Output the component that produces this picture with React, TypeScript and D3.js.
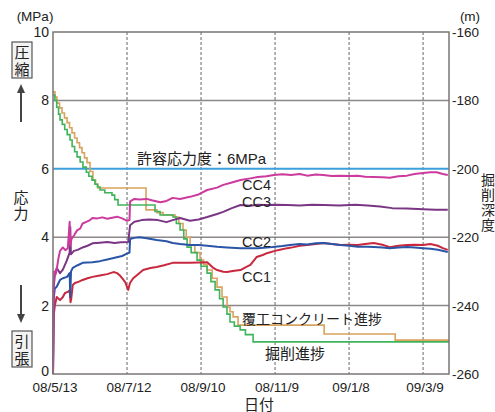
import React from "react"
import * as d3 from "d3"

// days since 08/5/13, value
const cc4: [number, number][] = [
  [0, 0], [0.5, 2.6], [1, 3.0], [2, 2.9], [3, 3.05], [4.5, 3.4], [5.7, 3.6], [8, 3.7], [10, 3.62], [12, 3.68],
  [13.5, 4.45], [14, 3.75], [15, 3.95], [17, 4.05], [19.5, 4.2], [22, 4.25], [24, 4.4], [27, 4.45], [30, 4.5],
  [32, 4.56], [36, 4.55], [40, 4.58], [44, 4.54], [48, 4.57], [52, 4.6], [56, 4.55], [60, 4.48], [62, 4.5],
  [62.5, 5.05], [66, 5.12], [70, 5.1], [76, 5.12], [80, 5.08], [87, 5.02], [92, 5.06], [97, 5.15], [103, 5.12],
  [111, 5.18], [118, 5.25], [125, 5.38], [133, 5.45], [138, 5.53], [145, 5.6], [152, 5.67], [160, 5.72],
  [166, 5.76], [173, 5.78], [179, 5.82], [186, 5.84], [193, 5.82], [200, 5.85], [206, 5.8], [213, 5.83],
  [219, 5.82], [226, 5.79], [233, 5.8], [240, 5.79], [247, 5.8], [253, 5.77], [260, 5.76], [267, 5.75],
  [273, 5.74], [280, 5.78], [287, 5.8], [293, 5.85], [300, 5.88], [306, 5.9], [311, 5.9], [316, 5.85], [320, 5.82],
]

const cc3: [number, number][] = [
  [0, 0], [0.5, 2.5], [1.5, 2.9], [3, 3.1], [5.7, 2.95], [8, 3.05], [11, 3.3], [13.5, 3.55], [14, 4.3],
  [14.5, 3.5], [17, 3.6], [20, 3.63], [24, 3.7], [28, 3.75], [32, 3.82], [38, 3.84], [44, 3.86], [50, 3.83],
  [55, 3.85], [61, 3.86], [62.5, 4.35], [66, 4.45], [72, 4.5], [78, 4.52], [85, 4.5], [92, 4.44], [97, 4.5],
  [103, 4.56], [111, 4.48], [118, 4.52], [125, 4.59], [133, 4.68], [138, 4.74], [145, 4.85], [152, 4.94],
  [160, 4.92], [166, 4.95], [173, 4.94], [180, 4.95], [190, 4.94], [200, 4.93], [210, 4.95], [220, 4.94],
  [232, 4.93], [245, 4.95], [255, 4.93], [265, 4.9], [275, 4.85], [287, 4.84], [300, 4.82], [310, 4.8], [320, 4.8],
]

const cc2: [number, number][] = [
  [0, 0], [0.5, 2.2], [1.5, 2.5], [3, 2.55], [5.7, 2.75], [8, 2.8], [11.4, 2.84], [13.5, 2.95], [14, 2.25],
  [14.6, 3.0], [16, 3.1], [20, 3.18], [24, 3.25], [28, 3.26], [32, 3.27], [38, 3.3], [44, 3.35], [50, 3.4],
  [56, 3.45], [60, 3.52], [62, 3.55], [62.5, 3.95], [66, 3.98], [70, 4.0], [76, 3.97], [84, 3.92], [92, 3.88],
  [97, 3.83], [103, 3.8], [111, 3.77], [118, 3.77], [125, 3.75], [133, 3.72], [141, 3.7], [152, 3.68],
  [160, 3.68], [166, 3.68], [178, 3.71], [186, 3.74], [192, 3.77], [200, 3.8], [206, 3.79], [213, 3.82],
  [219, 3.83], [226, 3.8], [233, 3.77], [240, 3.75], [247, 3.72], [255, 3.72], [260, 3.71], [267, 3.7],
  [273, 3.68], [280, 3.7], [287, 3.71], [293, 3.7], [300, 3.68], [306, 3.66], [312, 3.63], [320, 3.57],
]

const cc1: [number, number][] = [
  [0, 0], [0.5, 1.7], [1.5, 2.0], [3, 2.25], [5.7, 2.16], [8, 2.25], [9.7, 2.37], [12, 2.4], [13.5, 2.45],
  [14.2, 2.1], [14.8, 2.2], [16, 2.6], [17.8, 2.66], [21, 2.7], [24, 2.75], [28, 2.8], [32, 2.84], [38, 2.88],
  [44, 2.92], [49, 2.98], [52, 2.95], [54, 2.89], [56.5, 2.78], [58.5, 2.69], [60, 2.55], [61, 2.46],
  [62.4, 2.66], [65, 2.8], [68, 2.89], [73, 3.04], [79, 3.1], [84, 3.13], [90, 3.18], [97, 3.25], [103, 3.25],
  [111, 3.25], [118, 3.26], [125, 3.27], [130, 3.1], [133, 3.04], [138, 2.99], [141, 2.98], [147, 3.02],
  [152, 3.04], [156, 3.12], [160, 3.19], [165, 3.42], [170, 3.48], [174, 3.54], [180, 3.6], [184, 3.63],
  [190, 3.68], [195, 3.71], [200, 3.75], [206, 3.77], [213, 3.8], [219, 3.83], [226, 3.8], [233, 3.77],
  [240, 3.78], [247, 3.77], [253, 3.8], [260, 3.83], [267, 3.78], [273, 3.71], [280, 3.75], [287, 3.77],
  [293, 3.78], [300, 3.77], [306, 3.8], [312, 3.75], [316, 3.68], [320, 3.63],
]

// depth (m), step after
const lining: [number, number][] = [
  [0, -177.5], [1.6, -179], [3.2, -180.8], [5.3, -182.2], [7.3, -183.7], [9.3, -185.1], [11.4, -186.5],
  [13.4, -188], [15.4, -189.5], [17.5, -191], [19.5, -192.4], [21.5, -193.8], [23.5, -195.3], [25.5, -196.8],
  [27.6, -198.2], [30, -200.8], [32.4, -203.3], [34.5, -204.5], [36.5, -205.6], [75.4, -212], [84.3, -212.8],
  [89.2, -213.5], [99, -214.1], [102, -216], [105.4, -217.9], [108, -220], [111.1, -222.3], [115, -224.5],
  [119.2, -226.7], [122, -228], [124.9, -229.6], [129, -232], [133, -234.6], [137, -237.5], [141.1, -240.4],
  [143.5, -241.8], [146, -243.3], [150, -245.7], [219.8, -248.3], [277.4, -250.1], [321, -250.1],
]

const excavation: [number, number][] = [
  [0, -178.4], [1.5, -180], [3, -182], [4.5, -184], [5.7, -185.7], [7.5, -187], [9.5, -188.5], [11.5, -190],
  [13.8, -191.6], [15.5, -193.5], [17.5, -195], [19.5, -196.5], [22, -198], [24.3, -199.5], [27, -201],
  [29, -202.2], [31.6, -203.3], [34, -204.5], [36, -205.3], [38.1, -206.2], [42, -207], [47.8, -207.7],
  [50, -209], [52.7, -210.6], [82.7, -212.5], [86.8, -213.5], [97.3, -214.1], [100, -216], [103, -217.9],
  [106, -220.5], [108.7, -222.9], [112, -224.5], [116.8, -226.7], [120, -228.5], [124.9, -230.5], [128, -233],
  [131.4, -235.4], [135, -238], [137.9, -240.4], [141, -242.5], [143.5, -244.8], [147, -246], [151.7, -247.1],
  [156, -248.5], [162.2, -250.6], [321, -250.6],
]

const xTickLabels = ["08/5/13", "08/7/12", "08/9/10", "08/11/9", "09/1/8", "09/3/9"]
const yLeftTicks = [0, 2, 4, 6, 8, 10]
const yRightTicks = [-260, -240, -220, -200, -180, -160]
const allowable = 6

const FONT = "'Liberation Sans', Arial, 'Noto Sans CJK JP', sans-serif"

export default function App() {
  const left = 53, right = 449, top = 32, bottom = 374
  const parse = d3.timeParse("%y/%m/%d")
  const start = parse(xTickLabels[0]) as Date
  const toDate = (d: number) => new Date(start.getTime() + d * 864e5)

  const x = d3.scaleTime().domain([start, toDate(321)]).range([left, right])
  const y = d3.scaleLinear().domain([0, 10]).range([bottom, top])
  const yR = d3.scaleLinear().domain([-260, -160]).range([bottom, top])

  const line = d3.line<[number, number]>().x(d => x(toDate(d[0]))).y(d => y(d[1]))
  const step = d3.line<[number, number]>().x(d => x(toDate(d[0]))).y(d => yR(d[1])).curve(d3.curveStepAfter)

  const ccSeries = [
    { data: cc1, color: "#c8283e" },
    { data: cc2, color: "#2a55a6" },
    { data: cc3, color: "#7b3585" },
    { data: cc4, color: "#cc3a9e" },
  ]

  return (
    <svg width={495} height={412} style={{ position: "absolute", left: 0, top: 0, background: "#fff" }} fontFamily={FONT}>
      {/* horizontal grid */}
      {yLeftTicks.filter(v => v !== 0 && v !== 10 && v !== allowable).map(v => (
        <line key={v} x1={left} x2={right} y1={y(v)} y2={y(v)} stroke="#8c8888" strokeWidth={1.5} />
      ))}
      {/* vertical dashed grid */}
      {xTickLabels.slice(1).map(l => {
        const xx = x(parse(l) as Date)
        return <line key={l} x1={xx} x2={xx} y1={top} y2={bottom} stroke="#666" strokeWidth={1} strokeDasharray="3,2" />
      })}
      <line x1={left} x2={right} y1={y(allowable)} y2={y(allowable)} stroke="#3d9fdc" strokeWidth={2} />

      {/* progress */}
      <path d={step(lining) || ""} fill="none" stroke="#d9a25e" strokeWidth={1.6} />
      <path d={step(excavation) || ""} fill="none" stroke="#3fb45a" strokeWidth={1.6} />

      {ccSeries.map((s, i) => (
        <path key={i} d={line(s.data) || ""} fill="none" stroke={s.color} strokeWidth={2} strokeLinejoin="round" />
      ))}

      <rect x={left} y={top} width={right - left} height={bottom - top} fill="none" stroke="#7a7575" strokeWidth={1.5} />

      {/* left axis */}
      {yLeftTicks.map(v => (
        <text key={v} x={49} y={v === 0 ? y(v) + 2 : y(v) + 5} textAnchor="end" fontSize={14} fill="#222">{v}</text>
      ))}
      {/* right axis */}
      {yRightTicks.map(v => (
        <text key={v} x={452} y={yR(v) + 5} fontSize={13.5} fill="#222">{v}</text>
      ))}
      {/* x axis */}
      {xTickLabels.map(l => (
        <text key={l} x={x(parse(l) as Date) + 2} y={392} textAnchor="middle" fontSize={13.5} fill="#222">{l}</text>
      ))}

      <text x={35} y={21} textAnchor="middle" fontSize={13.5} fill="#222">(MPa)</text>
      <text x={470} y={21} textAnchor="middle" fontSize={13.5} fill="#222">(m)</text>
      <text x={259} y={410} textAnchor="middle" fontSize={15} fill="#222">日付</text>

      {/* left side labels */}
      <rect x={12} y={42} width={20} height={36} fill="#f3f3f3" stroke="#555" strokeWidth={1.2} />
      <text x={22} y={58} textAnchor="middle" fontSize={15} fill="#222">圧</text>
      <text x={22} y={75} textAnchor="middle" fontSize={15} fill="#222">縮</text>
      <line x1={21} x2={21} y1={122} y2={92} stroke="#444" strokeWidth={2} />
      <path d="M17,93 L21,84 L25,93 Z" fill="#444" />
      <text x={21} y={203} textAnchor="middle" fontSize={15} fill="#222">応</text>
      <text x={21} y={219} textAnchor="middle" fontSize={15} fill="#222">力</text>
      <line x1={21} x2={21} y1={285} y2={315} stroke="#444" strokeWidth={2} />
      <path d="M17,314 L21,323 L25,314 Z" fill="#444" />
      <rect x={12} y={331} width={20} height={36} fill="#f3f3f3" stroke="#555" strokeWidth={1.2} />
      <text x={22} y={347} textAnchor="middle" fontSize={15} fill="#222">引</text>
      <text x={22} y={364} textAnchor="middle" fontSize={15} fill="#222">張</text>

      {/* right side label */}
      {["掘", "削", "深", "度"].map((c, i) => (
        <text key={c} x={488} y={185 + i * 15} textAnchor="middle" fontSize={14} fill="#222">{c}</text>
      ))}

      {/* annotations */}
      <text x={137} y={164} fontSize={15} fill="#222">許容応力度：6MPa</text>
      <text x={242} y={190} fontSize={14.5} fill="#222">CC4</text>
      <text x={242} y={207} fontSize={14.5} fill="#222">CC3</text>
      <text x={242} y={247} fontSize={14.5} fill="#222">CC2</text>
      <text x={242} y={282} fontSize={14.5} fill="#222">CC1</text>
      <text x={242} y={324} fontSize={14} fill="#222">覆工コンクリート進捗</text>
      <text x={265} y={359} fontSize={15} fill="#222">掘削進捗</text>
    </svg>
  )
}
